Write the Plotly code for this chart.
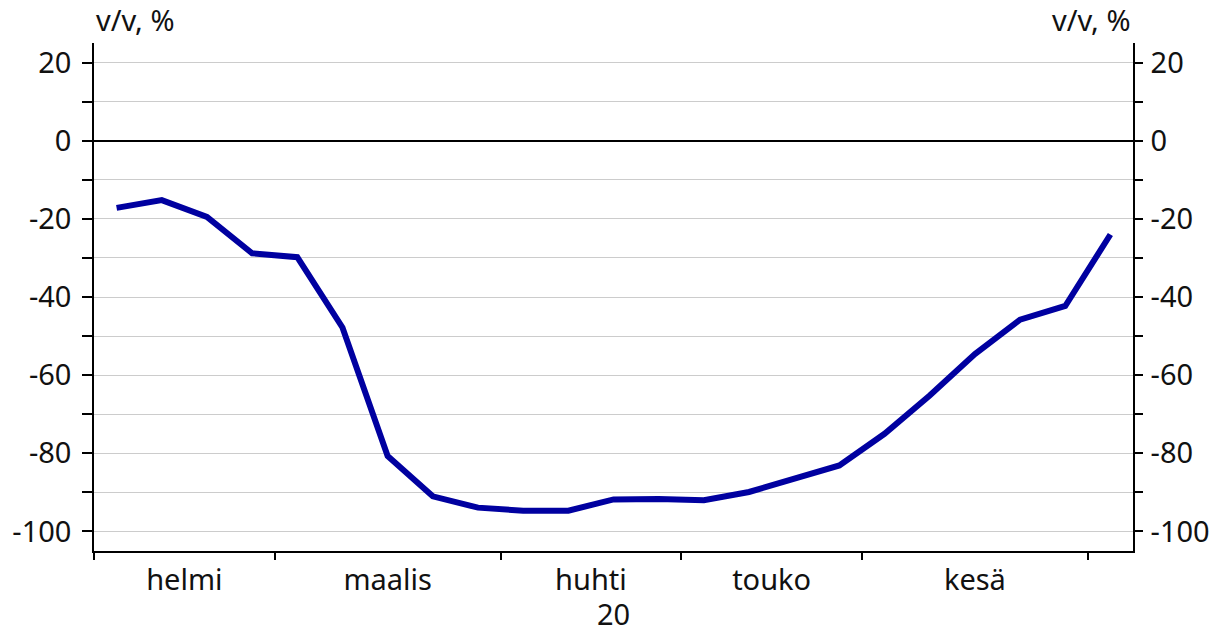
import plotly.graph_objects as go

# Weekly observations, Feb-Jul 2020 (y/y change, %)
weeks = list(range(23))
values = [-17.2, -15.2, -19.5, -28.8, -29.8, -47.8, -80.7, -91.0, -93.9, -94.7,
          -94.7, -91.8, -91.7, -92.0, -89.9, -86.5, -83.1, -75.0, -65.2, -54.6,
          -45.8, -42.3, -24.0]
month_labels = ["helmi", "maalis", "huhti", "touko", "kesä"]
month_centers = [1.5, 6.0, 10.5, 14.5, 19.0]
month_bounds = [-0.5, 3.5, 8.5, 12.5, 16.5, 21.5]
year_label = "20"
y_ticks = list(range(-100, 21, 10))
y_text = [str(v) if v % 20 == 0 else "" for v in y_ticks]

FONT = "Noto Sans"
fs = 29
TXT = "#111111"

W, H = 1230, 635
ML, MR, MT, MB = 94, 97, 43, 84
plot_h = H - MT - MB

fig = go.Figure()
fig.add_trace(go.Scatter(x=weeks, y=values, mode="lines",
                         line=dict(color="#0000a0", width=6),
                         showlegend=False, hoverinfo="skip"))
# invisible helper trace for secondary axes
fig.add_trace(go.Scatter(x=weeks, y=values, mode="lines", xaxis="x2", yaxis="y2",
                         line=dict(color="rgba(0,0,0,0)", width=0),
                         showlegend=False, hoverinfo="skip"))

yr = [-105, 25]
xr = [-0.5, 22.5]

fig.update_layout(
    width=W, height=H,
    margin=dict(l=ML, r=MR, t=MT, b=MB),
    paper_bgcolor="white", plot_bgcolor="white",
    font=dict(family=FONT, size=fs, color=TXT),
    xaxis=dict(range=xr, tickmode="array", tickvals=month_bounds,
               ticktext=[""] * len(month_bounds), ticks="outside", ticklen=7,
               tickwidth=1.5, tickcolor="black", showgrid=False, zeroline=False,
               showline=True, linecolor="black", linewidth=1.5),
    xaxis2=dict(range=xr, overlaying="x", anchor="y", side="bottom",
                tickmode="array", tickvals=month_centers, ticktext=month_labels,
                ticks="", showgrid=False, zeroline=False, showline=False,
                ticklabelstandoff=9,
                tickfont=dict(family=FONT, size=fs, color=TXT)),
    yaxis=dict(range=yr, tickmode="array", tickvals=y_ticks, ticktext=y_text,
               ticks="outside", ticklen=10, tickwidth=1.5, tickcolor="black",
               showgrid=True, gridcolor="#cccccc", gridwidth=1,
               zeroline=True, zerolinecolor="black", zerolinewidth=2,
               showline=True, linecolor="black", linewidth=1.5,
               ticklabelstandoff=5,
               tickfont=dict(family=FONT, size=fs, color=TXT)),
    yaxis2=dict(range=yr, overlaying="y", anchor="x", side="right",
                tickmode="array", tickvals=y_ticks, ticktext=y_text,
                ticks="outside", ticklen=8, tickwidth=1.5, tickcolor="black",
                showgrid=False, zeroline=False,
                showline=True, linecolor="black", linewidth=1.5,
                ticklabelstandoff=2,
                tickfont=dict(family=FONT, size=fs, color=TXT)),
    annotations=[
        dict(text="v/v, %", xref="paper", yref="paper", x=0, y=1, xanchor="left",
             yanchor="bottom", yshift=2, showarrow=False,
             font=dict(family=FONT, size=fs, color=TXT)),
        dict(text="v/v, %", xref="paper", yref="paper", x=1, y=1, xanchor="right",
             yanchor="bottom", yshift=2, showarrow=False,
             font=dict(family=FONT, size=fs, color=TXT)),
        dict(text=year_label, xref="paper", yref="paper", x=0.5,
             y=-MB / plot_h, xanchor="center", yanchor="bottom", yshift=1,
             borderpad=0, showarrow=False,
             font=dict(family=FONT, size=fs, color=TXT)),
    ],
)

fig.write_html("out.html", config={"displayModeBar": False},
               post_script="document.body.style.margin='0';")
